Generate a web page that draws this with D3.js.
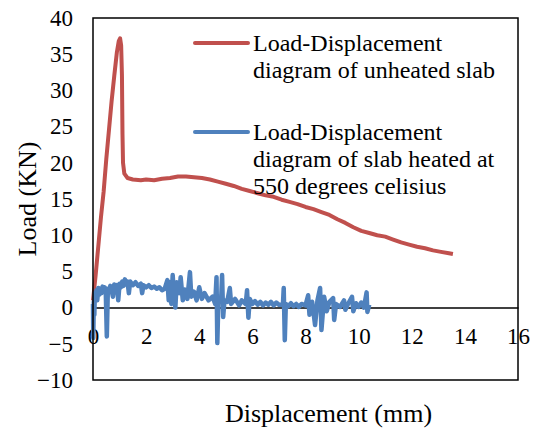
<!DOCTYPE html>
<html>
<head>
<meta charset="utf-8">
<script src="https://cdn.jsdelivr.net/npm/d3@7"></script>
<style>
  body { margin: 0; background: #fff; }
  svg, svg text { font-family: "Liberation Serif", serif !important; fill: #000; }
</style>
</head>
<body>
<div id="chart"></div>
<script>
// unheated slab
const redX = [0, 0.1, 0.2, 0.3, 0.4, 0.5, 0.6, 0.7, 0.8, 0.9, 0.97, 1.02, 1.06, 1.09, 1.11, 1.13, 1.18, 1.3, 1.5, 1.8, 2.0, 2.3, 2.6, 2.9, 3.2, 3.5, 3.8, 4.1, 4.4, 4.7, 5.0, 5.3, 5.6, 5.9, 6.2, 6.5, 6.8, 7.1, 7.4, 7.7, 8.0, 8.3, 8.6, 8.9, 9.2, 9.5, 9.8, 10.1, 10.4, 10.7, 11.0, 11.3, 11.6, 11.9, 12.2, 12.5, 12.8, 13.1, 13.4, 13.55];
const redY = [1, 4.5, 8.5, 12.5, 16, 20.5, 24.5, 28.5, 32, 35.3, 36.8, 37.2, 36.2, 32, 24, 20, 18.5, 17.9, 17.7, 17.6, 17.7, 17.6, 17.8, 17.9, 18.1, 18.1, 18.0, 17.9, 17.7, 17.4, 17.1, 16.8, 16.4, 16.1, 15.8, 15.5, 15.3, 14.9, 14.6, 14.3, 13.9, 13.6, 13.2, 12.8, 12.2, 11.7, 11.1, 10.6, 10.3, 10.0, 9.8, 9.4, 9.0, 8.7, 8.4, 8.2, 7.9, 7.7, 7.5, 7.4];

// slab heated at 550
const blueX = [0, 0.01, 0.03, 0.05, 0.07, 0.1, 0.13, 0.16, 0.2, 0.24, 0.28, 0.32, 0.36, 0.4, 0.44, 0.48, 0.52, 0.56, 0.6, 0.65, 0.7, 0.75, 0.8, 0.85, 0.9, 0.95, 1.0, 1.05, 1.1, 1.15, 1.2, 1.25, 1.3, 1.35, 1.4, 1.5, 1.6, 1.7, 1.8, 1.85, 1.9, 2.0, 2.1, 2.2, 2.3, 2.4, 2.5, 2.6, 2.7,
    2.8, 2.85, 2.9, 2.95, 3.0, 3.05, 3.1, 3.15, 3.25, 3.3, 3.38, 3.45, 3.55, 3.65, 3.7, 3.8, 3.9, 4.0, 4.1, 4.2, 4.35, 4.5, 4.6, 4.65, 4.68, 4.72, 4.82, 4.86, 4.9, 4.95, 5.05, 5.15, 5.2, 5.35, 5.5, 5.6, 5.75, 5.8, 5.85, 5.9, 6.0, 6.1, 6.2, 6.3, 6.4, 6.5, 6.6, 6.7, 6.8, 6.9, 7.0, 7.15, 7.18, 7.22, 7.26,
    7.35, 7.45, 7.55, 7.65, 7.75, 7.85, 8.0, 8.1, 8.15, 8.25, 8.36, 8.45, 8.55, 8.6, 8.7, 8.8, 8.9, 9.04, 9.08, 9.15, 9.3, 9.45, 9.5, 9.6, 9.75, 9.8, 9.9, 10.0, 10.1, 10.2, 10.3, 10.33, 10.4];
const blueY = [0.5, -4.2, 0.8, -1.0, 2.0, 1.2, 2.4, 1.0, 2.7, 1.8, 2.6, 2.0, 2.9, 2.2, 2.8, 2.3, -4.0, 2.6, 2.2, 3.0, 2.4, 1.5, 3.2, 2.6, 3.1, 1.0, 3.3, 2.8, 3.6, 3.0, 3.9, 3.2, 3.6, 2.0, 3.6, 3.1, 3.5, 3.0, 3.3, 2.0, 3.1, 2.8, 3.1, 2.7, 2.9, 2.6, 2.8, 2.4, 2.6,
    3.8, 1.0, 3.5, 0.5, 4.5, 1.5, 0.0, 3.5, 2.0, 4.2, 1.0, 2.5, 1.2, 4.9, 1.5, 2.2, 1.0, 2.8, 1.2, 2.0, 1.0, 1.5, 0.5, 4.2, -4.9, 1.0, 0.8, 4.5, -1.3, 1.0, 0.8, 2.7, 0.5, 1.2, 0.3, 1.0, 0.5, 2.4, -1.4, 1.2, 0.5, 0.9, 0.4, 0.8, 0.3, 0.7, 0.4, 0.8, 0.3, 0.7, 0.4, 0.4, 2.7, -4.5, 0.5,
    0.2, 0.6, 0.2, 0.5, 0.1, 0.5, 0.3, 1.7, -1.0, 0.8, -2.4, 1.0, 2.7, -3.1, 1.5, -0.5, 0.8, 1.3, -1.7, 0.5, 0.1, 1.0, -0.3, 0.5, 1.5, -0.5, 0.6, 0.1, 0.7, 0.0, 2.1, -0.6, 0.4];

const xTicks = [0, 2, 4, 6, 8, 10, 12, 14, 16];
const yTicks = [-10, -5, 0, 5, 10, 15, 20, 25, 30, 35, 40];

const legendLines = [
    ['Load-Displacement', 'diagram of unheated slab'],
    ['Load-Displacement', 'diagram of slab heated at', '550 degrees celisius']
];
const colors = ['#c0504d', '#4f81bd'];

const width = 536, height = 432;
const plot = { left: 93, top: 18, right: 518, bottom: 380 };
const serif = '"Liberation Serif", serif';

const svg = d3.select('#chart')
    .append('svg')
    .attr('width', width)
    .attr('height', height)
    .attr('font-family', serif);

const x = d3.scaleLinear().domain([0, 16]).range([plot.left, plot.right]);
const y = d3.scaleLinear().domain([-10, 40]).range([plot.bottom, plot.top]);

// y axis labels
svg.append('g')
    .attr('class', 'y axis')
    .attr('transform', 'translate(' + plot.left + ',0)')
    .call(d3.axisLeft(y).tickValues(yTicks).tickSize(0).tickPadding(20))
    .attr('font-family', serif)
    .attr('font-size', 23)
    .call(g => g.select('.domain').remove());

// x axis along zero line
svg.append('g')
    .attr('class', 'x axis')
    .attr('transform', 'translate(0,' + y(0) + ')')
    .call(d3.axisBottom(x).tickValues(xTicks).tickSize(0).tickPadding(20))
    .attr('font-family', serif)
    .attr('font-size', 23)
    .call(g => g.select('.domain').attr('stroke', '#000').attr('stroke-width', 1.5));

const line = d3.line()
    .x(d => x(d[0]))
    .y(d => y(d[1]));

const series = [
    d3.zip(redX, redY),
    d3.zip(blueX, blueY)
];

svg.selectAll('.series')
    .data(series)
    .join('path')
    .attr('class', 'series')
    .attr('fill', 'none')
    .attr('stroke', (d, i) => colors[i])
    .attr('stroke-width', (d, i) => i === 0 ? 4 : 4.5)
    .attr('stroke-linejoin', 'round')
    .attr('d', line);

// plot border
svg.append('rect')
    .attr('x', plot.left)
    .attr('y', plot.top)
    .attr('width', plot.right - plot.left)
    .attr('height', plot.bottom - plot.top)
    .attr('fill', 'none')
    .attr('stroke', '#000')
    .attr('stroke-width', 1.5);

// legend
const legendTop = [43, 132];
legendLines.forEach((lines, i) => {
    svg.append('line')
        .attr('x1', 195).attr('x2', 248)
        .attr('y1', legendTop[i]).attr('y2', legendTop[i])
        .attr('stroke', colors[i])
        .attr('stroke-width', 4)
        .attr('stroke-linecap', 'round');
    const t = svg.append('text')
        .attr('x', 253)
        .attr('y', legendTop[i] + 8)
        .style('font-family', serif)
        .style('font-size', '24px');
    lines.forEach((s, j) => {
        t.append('tspan')
            .attr('x', 253)
            .attr('dy', j === 0 ? 0 : 27)
            .text(s);
    });
});

// axis titles
svg.append('text')
    .attr('x', (plot.left + plot.right) / 2 + 23)
    .attr('y', 422)
    .attr('text-anchor', 'middle')
    .style('font-family', serif)
    .style('font-size', '26px')
    .text('Displacement (mm)');

svg.append('text')
    .attr('transform', 'rotate(-90)')
    .attr('x', -199)
    .attr('y', 36)
    .attr('text-anchor', 'middle')
    .style('font-family', serif)
    .style('font-size', '26px')
    .text('Load (KN)');
</script>
</body>
</html>
